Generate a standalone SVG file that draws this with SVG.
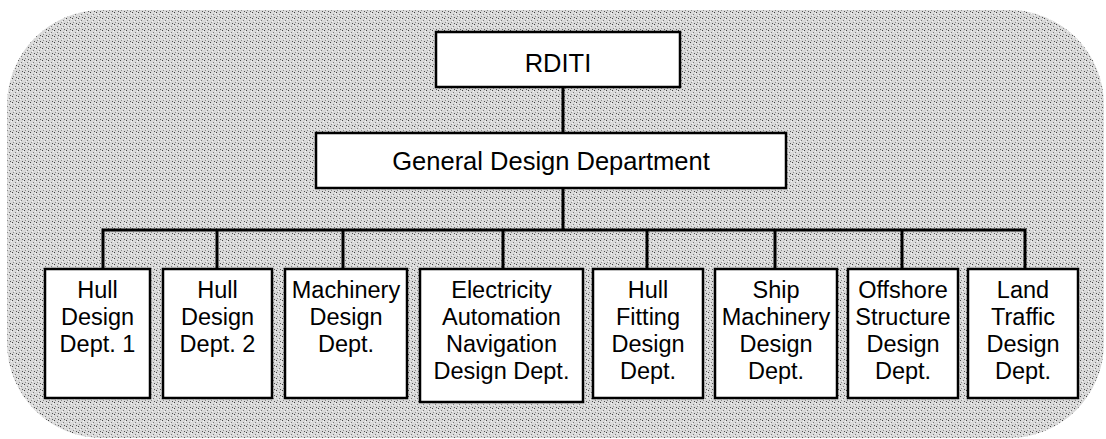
<svg xmlns="http://www.w3.org/2000/svg" width="1106" height="439" viewBox="0 0 1106 439">
<style>
.box{fill:#ffffff;stroke:#000000;stroke-width:2.5}
.lbl{font-family:"Liberation Sans",Arial,sans-serif;font-size:23.5px;fill:#000000;text-anchor:middle}
.big{font-size:25.5px}
.con{fill:none;stroke:#000000;stroke-width:3}
</style>
<defs>
<pattern id="dither" width="6" height="6" patternUnits="userSpaceOnUse">
<rect width="6" height="6" fill="#d9d9d9"/>
<rect x="0" y="0" width="1" height="1" fill="#404040"/>
<rect x="3" y="2" width="1" height="1" fill="#7a7a7a"/>
<rect x="1" y="4" width="1" height="1" fill="#8c8c8c"/>
<rect x="4" y="5" width="1" height="1" fill="#555555"/>
<rect x="5" y="1" width="1" height="1" fill="#f5f5f5"/>
<rect x="2" y="3" width="1" height="1" fill="#f5f5f5"/>
</pattern>
</defs>
<rect x="7" y="10" width="1097" height="428" rx="95" ry="95" fill="url(#dither)"/>
<g id="connectors">
<line class="con" x1="563" y1="87" x2="563" y2="133"/>
<line class="con" x1="563" y1="188" x2="563" y2="230"/>
<polyline class="con" points="103,269 103,230 1025,230 1025,269"/>
<line class="con" x1="217" y1="230" x2="217" y2="269"/>
<line class="con" x1="343" y1="230" x2="343" y2="269"/>
<line class="con" x1="503" y1="230" x2="503" y2="269"/>
<line class="con" x1="647" y1="230" x2="647" y2="269"/>
<line class="con" x1="775" y1="230" x2="775" y2="269"/>
<line class="con" x1="902" y1="230" x2="902" y2="269"/>
</g>
<g id="rditi">
<rect class="box" x="436" y="32" width="244" height="55"/>
<text class="lbl big" x="558" y="72">RDITI</text>
</g>
<g id="general">
<rect class="box" x="316" y="133" width="470" height="55"/>
<text class="lbl big" x="551" y="170">General Design Department</text>
</g>
<g id="hull1">
<rect class="box" x="45" y="269" width="105" height="129"/>
<text class="lbl" x="97.5" y="298">Hull</text>
<text class="lbl" x="97.5" y="325">Design</text>
<text class="lbl" x="97.5" y="352">Dept. 1</text>
</g>
<g id="hull2">
<rect class="box" x="163" y="269" width="109" height="129"/>
<text class="lbl" x="217.5" y="298">Hull</text>
<text class="lbl" x="217.5" y="325">Design</text>
<text class="lbl" x="217.5" y="352">Dept. 2</text>
</g>
<g id="machinery">
<rect class="box" x="285" y="269" width="122" height="129"/>
<text class="lbl" x="346" y="298">Machinery</text>
<text class="lbl" x="346" y="325">Design</text>
<text class="lbl" x="346" y="352">Dept.</text>
</g>
<g id="electricity">
<rect class="box" x="420" y="269" width="163" height="133"/>
<text class="lbl" x="501.5" y="298">Electricity</text>
<text class="lbl" x="501.5" y="325">Automation</text>
<text class="lbl" x="501.5" y="352">Navigation</text>
<text class="lbl" x="501.5" y="379">Design Dept.</text>
</g>
<g id="hullfitting">
<rect class="box" x="593" y="269" width="110" height="129"/>
<text class="lbl" x="648" y="298">Hull</text>
<text class="lbl" x="648" y="325">Fitting</text>
<text class="lbl" x="648" y="352">Design</text>
<text class="lbl" x="648" y="379">Dept.</text>
</g>
<g id="shipmachinery">
<rect class="box" x="715" y="269" width="122" height="129"/>
<text class="lbl" x="776" y="298">Ship</text>
<text class="lbl" x="776" y="325">Machinery</text>
<text class="lbl" x="776" y="352">Design</text>
<text class="lbl" x="776" y="379">Dept.</text>
</g>
<g id="offshore">
<rect class="box" x="848" y="269" width="110" height="129"/>
<text class="lbl" x="903" y="298">Offshore</text>
<text class="lbl" x="903" y="325">Structure</text>
<text class="lbl" x="903" y="352">Design</text>
<text class="lbl" x="903" y="379">Dept.</text>
</g>
<g id="landtraffic">
<rect class="box" x="968" y="269" width="110" height="129"/>
<text class="lbl" x="1023" y="298">Land</text>
<text class="lbl" x="1023" y="325">Traffic</text>
<text class="lbl" x="1023" y="352">Design</text>
<text class="lbl" x="1023" y="379">Dept.</text>
</g>
</svg>
